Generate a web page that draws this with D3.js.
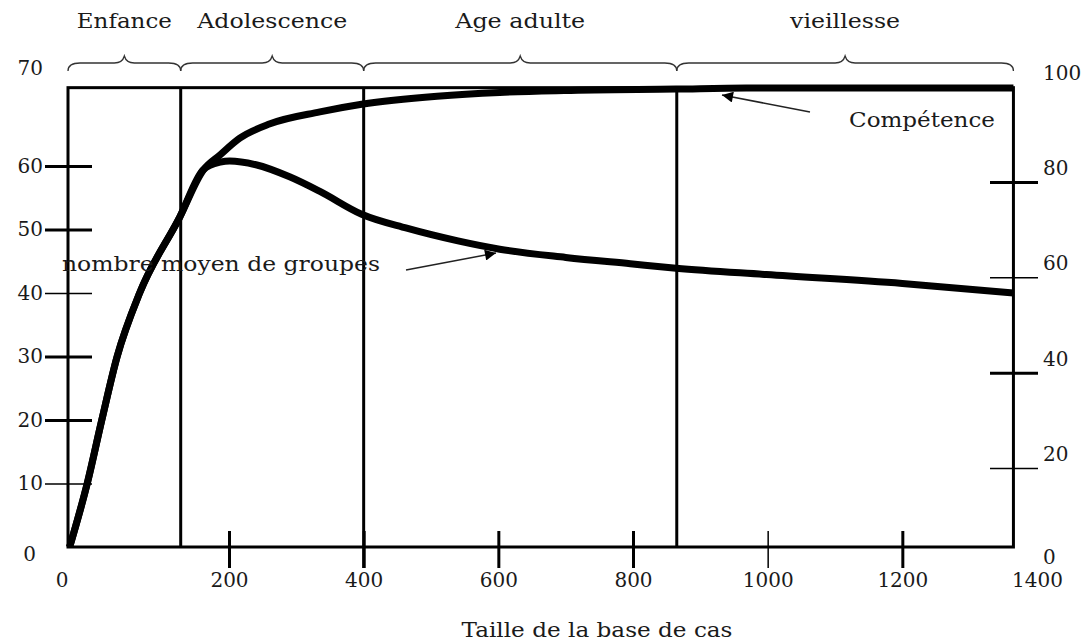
<!DOCTYPE html>
<html>
<head>
<meta charset="utf-8">
<script src="https://cdn.jsdelivr.net/npm/d3@7"></script>
<style>
body { margin: 0; background: #fff; }
svg text { font-family: "DejaVu Serif", serif; fill: #1a1a1a; }
</style>
</head>
<body>
<script>
// phases of the case base life
var phases = ["Enfance", "Adolescence", "Age adulte", "vieillesse"];
var phaseBounds = [0, 140, 400, 865, 1365];

// axis ticks
var xTicks = [0, 200, 400, 600, 800, 1000, 1200, 1400];
var leftTicks = [0, 10, 20, 30, 40, 50, 60, 70];
var rightTicks = [0, 20, 40, 60, 80, 100];

// Compétence (right axis)
var competenceX = [2, 24, 42, 61, 89, 139, 168, 189, 216, 261, 335, 397, 509, 602, 698, 864, 968, 1365];
var competenceY = [3.4, 16.9, 30.1, 43.3, 56.7, 72.7, 82.5, 85.7, 89.2, 92.2, 94.7, 96.3, 98.0, 98.8, 99.2, 99.5, 99.7, 99.7];

// nombre moyen de groupes (left axis)
var groupsX = [2, 24, 42, 61, 89, 139, 168, 189, 201, 240, 290, 335, 397, 464, 540, 602, 700, 796, 864, 998, 1200, 1365];
var groupsY = [0, 10, 20, 30, 40, 52, 59.4, 60.6, 60.8, 60.2, 58.3, 56.0, 52.4, 50.2, 48.2, 46.9, 45.6, 44.6, 43.9, 42.9, 41.5, 40];

var width = 1086, height = 641;

var svg = d3.select('body').append('svg')
    .attr('width', width)
    .attr('height', height);

var x = d3.scaleLinear().domain([0, 200, 1400]).range([68, 229, 1037]);
var yLeft = d3.scaleLinear().domain([0, 60]).range([547, 166]);
var yRight = d3.scaleLinear().domain([20, 80]).range([468, 182]);

var xEnd = phaseBounds[phaseBounds.length - 1];
var boxTop = yRight(100) + 1;
var boxBottom = yLeft(0);

// arrow head
svg.append('defs').append('marker')
    .attr('id', 'head')
    .attr('viewBox', '0 0 10 10')
    .attr('refX', 10)
    .attr('refY', 5)
    .attr('markerUnits', 'userSpaceOnUse')
    .attr('markerWidth', 18)
    .attr('markerHeight', 11)
    .attr('orient', 'auto')
    .append('path')
    .attr('d', 'M0,0 L10,5 L0,10 z')
    .attr('fill', '#000');

// axes
var fmt = d3.format('d');
var gL = svg.append('g')
    .attr('transform', 'translate(92,0)')
    .call(d3.axisLeft(yLeft).tickValues(leftTicks).tickFormat(fmt).tickSize(47).tickPadding(2));
var gR = svg.append('g')
    .attr('transform', 'translate(990,0)')
    .call(d3.axisRight(yRight).tickValues(rightTicks).tickFormat(fmt).tickSize(48).tickPadding(5));
var gB = svg.append('g')
    .attr('transform', 'translate(0,531)')
    .call(d3.axisBottom(x).tickValues(xTicks).tickFormat(fmt).tickSize(37).tickPadding(5));

[gL, gR, gB].forEach(function (g) {
    g.attr('font-family', null).attr('font-size', 20);
    g.select('.domain').remove();
    g.selectAll('.tick text').attr('fill', '#1a1a1a');
});

gL.selectAll('.tick line')
    .attr('stroke', '#000')
    .attr('stroke-width', function (d) { return (d == 10 || d == 40) ? 1.5 : 3; })
    .attr('display', function (d) { return (d == 0 || d == 70) ? 'none' : null; });
gL.selectAll('.tick').filter(function (d) { return d == 70; }).attr('transform', 'translate(0,69)');
gL.selectAll('.tick').filter(function (d) { return d == 0; }).attr('transform', 'translate(-7,555)');

gR.selectAll('.tick line')
    .attr('stroke', '#000')
    .attr('stroke-width', function (d) { return (d == 20 || d == 60) ? 1.5 : 3; })
    .attr('display', function (d) { return (d == 0 || d == 100) ? 'none' : null; });
gR.selectAll('.tick text').attr('dy', '-0.38em');
gR.selectAll('.tick').filter(function (d) { return d == 0; }).attr('transform', 'translate(0,572)');

gB.selectAll('.tick line')
    .attr('stroke', '#000')
    .attr('stroke-width', function (d) { return d == 1000 ? 1.5 : 3; })
    .attr('display', function (d) { return (d == 0 || d == 1400) ? 'none' : null; });
gB.selectAll('.tick').filter(function (d) { return d == 0; }).attr('transform', 'translate(62,0)');

// frame
svg.append('rect')
    .attr('x', x(0))
    .attr('y', boxTop)
    .attr('width', x(xEnd) - x(0))
    .attr('height', boxBottom - boxTop)
    .attr('fill', 'none')
    .attr('stroke', '#000')
    .attr('stroke-width', 3);

// phase separators
svg.selectAll('.sep')
    .data(phaseBounds.slice(1, -1))
    .enter()
    .append('line')
    .attr('x1', function (d) { return x(d); })
    .attr('x2', function (d) { return x(d); })
    .attr('y1', boxTop)
    .attr('y2', function (d) { return d == 400 ? 568 : boxBottom; })
    .attr('stroke', '#000')
    .attr('stroke-width', 3);

// braces + phase names
function bracePath(x1, x2) {
    var m = (x1 + x2) / 2, yb = 63;
    return 'M' + x1 + ',71 Q' + x1 + ',' + yb + ' ' + (x1 + 12) + ',' + yb +
        ' L' + (m - 10) + ',' + yb + ' Q' + (m - 2) + ',' + yb + ' ' + m + ',56' +
        ' Q' + (m + 2) + ',' + yb + ' ' + (m + 10) + ',' + yb +
        ' L' + (x2 - 12) + ',' + yb + ' Q' + x2 + ',' + yb + ' ' + x2 + ',71';
}
var phaseWidths = [95, 150, 130, 110];
phases.forEach(function (p, i) {
    var x1 = x(phaseBounds[i]), x2 = x(phaseBounds[i + 1]);
    svg.append('path')
        .attr('d', bracePath(x1, x2))
        .attr('fill', 'none')
        .attr('stroke', '#333')
        .attr('stroke-width', 1.3);
    svg.append('text')
        .attr('x', (x1 + x2) / 2)
        .attr('y', 28)
        .attr('text-anchor', 'middle')
        .attr('font-size', 21)
        .attr('textLength', phaseWidths[i])
        .attr('lengthAdjust', 'spacingAndGlyphs')
        .text(p);
});

// curves
var lineRight = d3.line()
    .x(function (d) { return x(d[0]); })
    .y(function (d) { return yRight(d[1]); })
    .curve(d3.curveMonotoneX);
var lineLeft = d3.line()
    .x(function (d) { return x(d[0]); })
    .y(function (d) { return yLeft(d[1]); })
    .curve(d3.curveMonotoneX);

svg.append('path')
    .datum(d3.zip(groupsX, groupsY))
    .attr('d', lineLeft)
    .attr('fill', 'none')
    .attr('stroke', '#000')
    .attr('stroke-width', 7)
    .attr('stroke-linejoin', 'round');

svg.append('path')
    .datum(d3.zip(competenceX, competenceY))
    .attr('d', lineRight)
    .attr('fill', 'none')
    .attr('stroke', '#000')
    .attr('stroke-width', 7)
    .attr('stroke-linejoin', 'round');

// annotations
svg.append('text')
    .attr('x', 849).attr('y', 127)
    .attr('font-size', 21)
    .attr('textLength', 146)
    .attr('lengthAdjust', 'spacingAndGlyphs')
    .text('Compétence');
svg.append('line')
    .attr('x1', 810).attr('y1', 112)
    .attr('x2', 722).attr('y2', 95)
    .attr('stroke', '#222')
    .attr('stroke-width', 1.5)
    .attr('marker-end', 'url(#head)');

svg.append('text')
    .attr('x', 62).attr('y', 271)
    .attr('font-size', 21)
    .attr('textLength', 318)
    .attr('lengthAdjust', 'spacingAndGlyphs')
    .text('nombre moyen de groupes');
svg.append('line')
    .attr('x1', 406).attr('y1', 270)
    .attr('x2', 496).attr('y2', 253)
    .attr('stroke', '#222')
    .attr('stroke-width', 1.5)
    .attr('marker-end', 'url(#head)');

svg.append('text')
    .attr('x', 597).attr('y', 637)
    .attr('text-anchor', 'middle')
    .attr('font-size', 21)
    .attr('textLength', 271)
    .attr('lengthAdjust', 'spacingAndGlyphs')
    .text('Taille de la base de cas');
</script>
</body>
</html>
